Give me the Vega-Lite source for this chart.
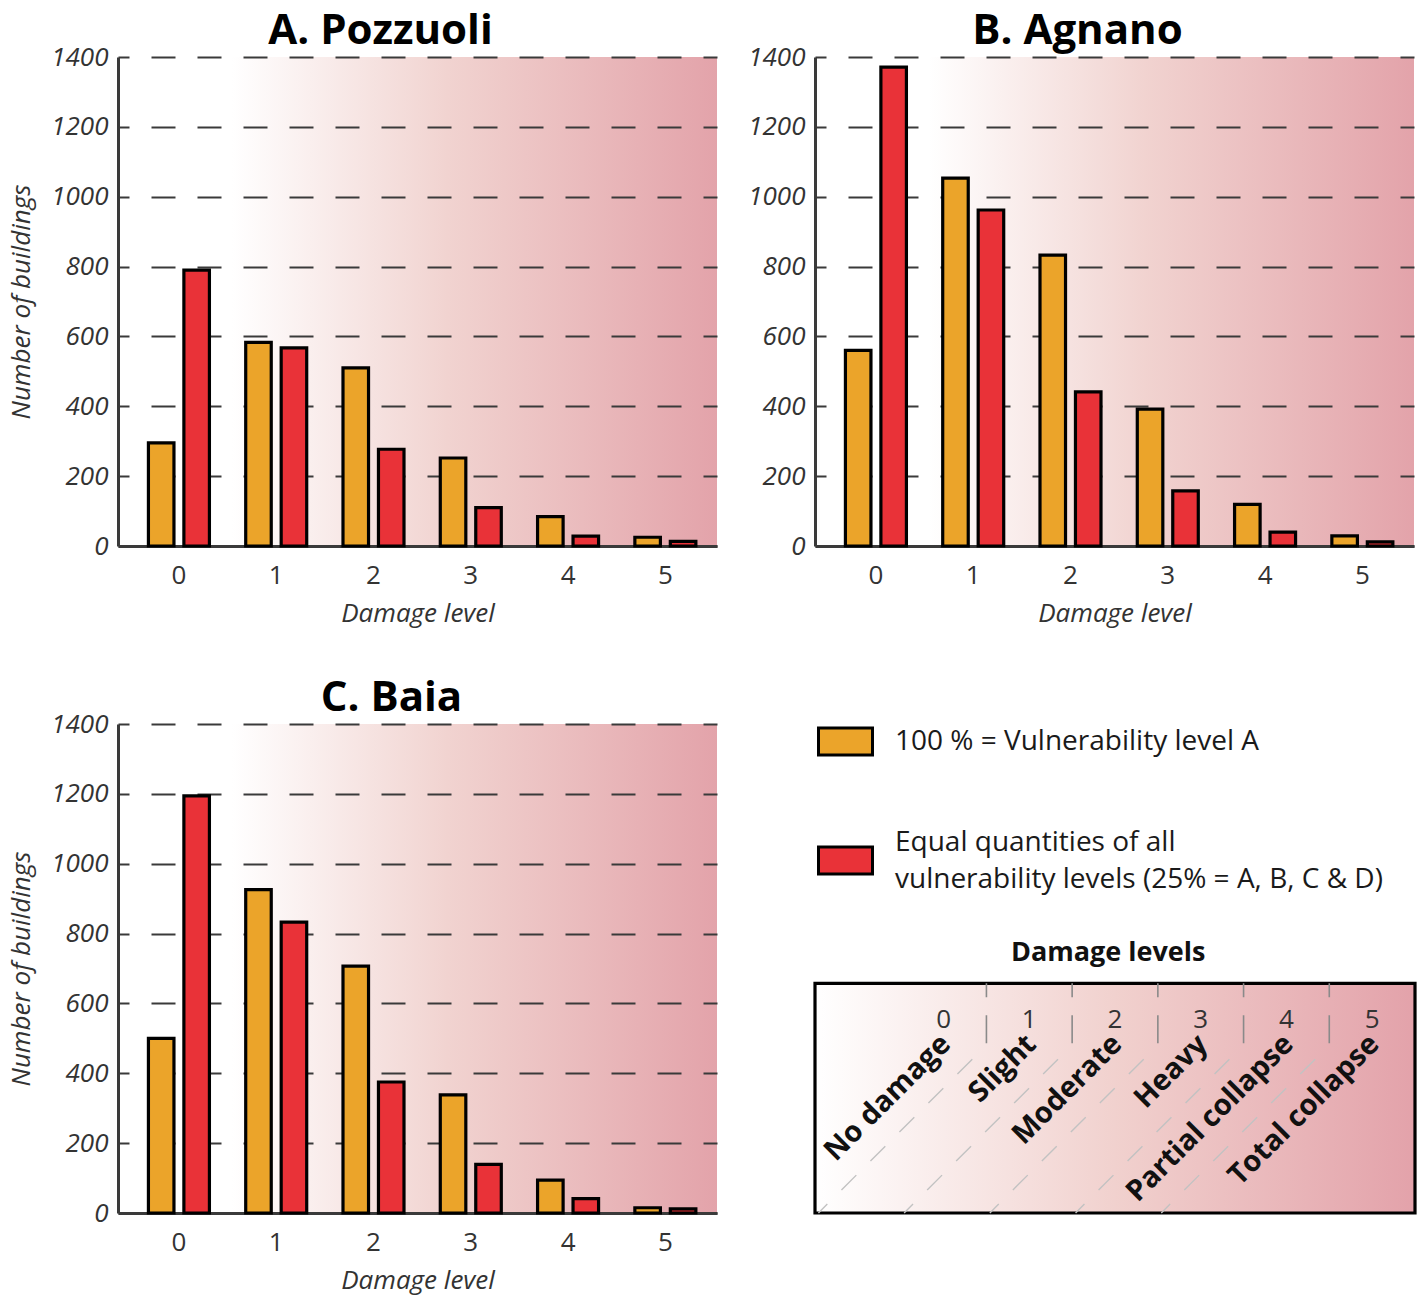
{
  "$schema": "https://vega.github.io/schema/vega-lite/v6.json",
  "background": "white",
  "padding": {"left": 8, "top": 10, "right": 0, "bottom": 14},
  "bounds": "flush",
  "columns": 2,
  "spacing": {"column": 98, "row": 178},
  "data": {
    "values": [
      {"town": "Pozzuoli", "level": 0, "series": "100 % = Vulnerability level A", "count": 295},
      {"town": "Pozzuoli", "level": 1, "series": "100 % = Vulnerability level A", "count": 583},
      {"town": "Pozzuoli", "level": 2, "series": "100 % = Vulnerability level A", "count": 510},
      {"town": "Pozzuoli", "level": 3, "series": "100 % = Vulnerability level A", "count": 252},
      {"town": "Pozzuoli", "level": 4, "series": "100 % = Vulnerability level A", "count": 84},
      {"town": "Pozzuoli", "level": 5, "series": "100 % = Vulnerability level A", "count": 25},
      {"town": "Pozzuoli", "level": 0, "series": "Equal quantities of all vulnerability levels (25% = A, B, C & D)", "count": 790},
      {"town": "Pozzuoli", "level": 1, "series": "Equal quantities of all vulnerability levels (25% = A, B, C & D)", "count": 567},
      {"town": "Pozzuoli", "level": 2, "series": "Equal quantities of all vulnerability levels (25% = A, B, C & D)", "count": 277},
      {"town": "Pozzuoli", "level": 3, "series": "Equal quantities of all vulnerability levels (25% = A, B, C & D)", "count": 110},
      {"town": "Pozzuoli", "level": 4, "series": "Equal quantities of all vulnerability levels (25% = A, B, C & D)", "count": 28},
      {"town": "Pozzuoli", "level": 5, "series": "Equal quantities of all vulnerability levels (25% = A, B, C & D)", "count": 13},
      {"town": "Agnano", "level": 0, "series": "100 % = Vulnerability level A", "count": 560},
      {"town": "Agnano", "level": 1, "series": "100 % = Vulnerability level A", "count": 1053},
      {"town": "Agnano", "level": 2, "series": "100 % = Vulnerability level A", "count": 833},
      {"town": "Agnano", "level": 3, "series": "100 % = Vulnerability level A", "count": 392},
      {"town": "Agnano", "level": 4, "series": "100 % = Vulnerability level A", "count": 119},
      {"town": "Agnano", "level": 5, "series": "100 % = Vulnerability level A", "count": 29},
      {"town": "Agnano", "level": 0, "series": "Equal quantities of all vulnerability levels (25% = A, B, C & D)", "count": 1371},
      {"town": "Agnano", "level": 1, "series": "Equal quantities of all vulnerability levels (25% = A, B, C & D)", "count": 962},
      {"town": "Agnano", "level": 2, "series": "Equal quantities of all vulnerability levels (25% = A, B, C & D)", "count": 441},
      {"town": "Agnano", "level": 3, "series": "Equal quantities of all vulnerability levels (25% = A, B, C & D)", "count": 158},
      {"town": "Agnano", "level": 4, "series": "Equal quantities of all vulnerability levels (25% = A, B, C & D)", "count": 40},
      {"town": "Agnano", "level": 5, "series": "Equal quantities of all vulnerability levels (25% = A, B, C & D)", "count": 12},
      {"town": "Baia", "level": 0, "series": "100 % = Vulnerability level A", "count": 500},
      {"town": "Baia", "level": 1, "series": "100 % = Vulnerability level A", "count": 926},
      {"town": "Baia", "level": 2, "series": "100 % = Vulnerability level A", "count": 707},
      {"town": "Baia", "level": 3, "series": "100 % = Vulnerability level A", "count": 338},
      {"town": "Baia", "level": 4, "series": "100 % = Vulnerability level A", "count": 94},
      {"town": "Baia", "level": 5, "series": "100 % = Vulnerability level A", "count": 15},
      {"town": "Baia", "level": 0, "series": "Equal quantities of all vulnerability levels (25% = A, B, C & D)", "count": 1194},
      {"town": "Baia", "level": 1, "series": "Equal quantities of all vulnerability levels (25% = A, B, C & D)", "count": 833},
      {"town": "Baia", "level": 2, "series": "Equal quantities of all vulnerability levels (25% = A, B, C & D)", "count": 375},
      {"town": "Baia", "level": 3, "series": "Equal quantities of all vulnerability levels (25% = A, B, C & D)", "count": 139},
      {"town": "Baia", "level": 4, "series": "Equal quantities of all vulnerability levels (25% = A, B, C & D)", "count": 41},
      {"town": "Baia", "level": 5, "series": "Equal quantities of all vulnerability levels (25% = A, B, C & D)", "count": 12}
    ]
  },
  "concat": [
    {
      "title": {"text": "A. Pozzuoli", "dx": -37},
      "width": 599,
      "height": 489,
      "view": {"stroke": null, "fill": {"gradient": "linear", "x1": 0, "y1": 0, "x2": 1, "y2": 0, "stops": [{"offset": 0, "color": "#ffffff"}, {"offset": 0.19, "color": "#ffffff"}, {"offset": 0.55, "color": "#f1d3d0"}, {"offset": 1, "color": "#e3a3aa"}]}},
      "transform": [{"filter": "datum.town == 'Pozzuoli'"}],
      "mark": {"type": "bar", "stroke": "black", "strokeWidth": 3.2},
      "encoding": {
        "x": {"field": "level", "type": "ordinal", "scale": {"paddingInner": 0.373, "paddingOuter": 0.265, "align": 0.59}, "axis": {"title": "Damage level"}},
        "xOffset": {"field": "series", "type": "nominal", "scale": {"domain": ["100 % = Vulnerability level A", "Equal quantities of all vulnerability levels (25% = A, B, C & D)"], "paddingInner": 0.28, "paddingOuter": 0}},
        "y": {"field": "count", "type": "quantitative", "scale": {"domain": [0, 1400], "nice": false}, "axis": {"values": [0, 200, 400, 600, 800, 1000, 1200, 1400], "format": "d", "title": "Number of buildings"}},
        "color": {"field": "series", "type": "nominal", "scale": {"domain": ["100 % = Vulnerability level A", "Equal quantities of all vulnerability levels (25% = A, B, C & D)"], "range": ["#eba42a", "#e93238"]}, "legend": {"orient": "none", "legendX": 699, "legendY": 656, "title": null, "labelExpr": "datum.label == '100 % = Vulnerability level A' ? datum.label : ['Equal quantities of all', 'vulnerability levels (25% = A, B, C & D)']", "encode": {"labels": {"update": {"dy": {"signal": "datum.value == '100 % = Vulnerability level A' ? 0 : -18"}}}}}}
      }
    },
    {
      "title": {"text": "B. Agnano", "dx": -37},
      "width": 599,
      "height": 489,
      "view": {"stroke": null, "fill": {"gradient": "linear", "x1": 0, "y1": 0, "x2": 1, "y2": 0, "stops": [{"offset": 0, "color": "#ffffff"}, {"offset": 0.19, "color": "#ffffff"}, {"offset": 0.55, "color": "#f1d3d0"}, {"offset": 1, "color": "#e3a3aa"}]}},
      "transform": [{"filter": "datum.town == 'Agnano'"}],
      "mark": {"type": "bar", "stroke": "black", "strokeWidth": 3.2},
      "encoding": {
        "x": {"field": "level", "type": "ordinal", "scale": {"paddingInner": 0.373, "paddingOuter": 0.265, "align": 0.59}, "axis": {"title": "Damage level"}},
        "xOffset": {"field": "series", "type": "nominal", "scale": {"domain": ["100 % = Vulnerability level A", "Equal quantities of all vulnerability levels (25% = A, B, C & D)"], "paddingInner": 0.28, "paddingOuter": 0}},
        "y": {"field": "count", "type": "quantitative", "scale": {"domain": [0, 1400], "nice": false}, "axis": {"values": [0, 200, 400, 600, 800, 1000, 1200, 1400], "format": "d", "title": null}},
        "color": {"field": "series", "type": "nominal", "scale": {"domain": ["100 % = Vulnerability level A", "Equal quantities of all vulnerability levels (25% = A, B, C & D)"], "range": ["#eba42a", "#e93238"]}, "legend": {"orient": "none", "legendX": 699, "legendY": 656, "title": null, "labelExpr": "datum.label == '100 % = Vulnerability level A' ? datum.label : ['Equal quantities of all', 'vulnerability levels (25% = A, B, C & D)']", "encode": {"labels": {"update": {"dy": {"signal": "datum.value == '100 % = Vulnerability level A' ? 0 : -18"}}}}}}
      }
    },
    {
      "title": {"text": "C. Baia", "dx": -26},
      "width": 599,
      "height": 489,
      "view": {"stroke": null, "fill": {"gradient": "linear", "x1": 0, "y1": 0, "x2": 1, "y2": 0, "stops": [{"offset": 0, "color": "#ffffff"}, {"offset": 0.19, "color": "#ffffff"}, {"offset": 0.55, "color": "#f1d3d0"}, {"offset": 1, "color": "#e3a3aa"}]}},
      "transform": [{"filter": "datum.town == 'Baia'"}],
      "mark": {"type": "bar", "stroke": "black", "strokeWidth": 3.2},
      "encoding": {
        "x": {"field": "level", "type": "ordinal", "scale": {"paddingInner": 0.373, "paddingOuter": 0.265, "align": 0.59}, "axis": {"title": "Damage level"}},
        "xOffset": {"field": "series", "type": "nominal", "scale": {"domain": ["100 % = Vulnerability level A", "Equal quantities of all vulnerability levels (25% = A, B, C & D)"], "paddingInner": 0.28, "paddingOuter": 0}},
        "y": {"field": "count", "type": "quantitative", "scale": {"domain": [0, 1400], "nice": false}, "axis": {"values": [0, 200, 400, 600, 800, 1000, 1200, 1400], "format": "d", "title": "Number of buildings"}},
        "color": {"field": "series", "type": "nominal", "scale": {"domain": ["100 % = Vulnerability level A", "Equal quantities of all vulnerability levels (25% = A, B, C & D)"], "range": ["#eba42a", "#e93238"]}, "legend": {"orient": "none", "legendX": 699, "legendY": 656, "title": null, "labelExpr": "datum.label == '100 % = Vulnerability level A' ? datum.label : ['Equal quantities of all', 'vulnerability levels (25% = A, B, C & D)']", "encode": {"labels": {"update": {"dy": {"signal": "datum.value == '100 % = Vulnerability level A' ? 0 : -18"}}}}}}
      }
    },
    {
      "width": 600,
      "height": 489,
      "view": {"stroke": null},
      "data": {
        "values": [
          {"level": 0, "name": "No damage", "edge": 0.5, "foot": -1.46},
          {"level": 1, "name": "Slight", "edge": 1.5, "foot": -0.46},
          {"level": 2, "name": "Moderate", "edge": 2.5, "foot": 0.54},
          {"level": 3, "name": "Heavy", "edge": 3.5, "foot": 1.54},
          {"level": 4, "name": "Partial collapse", "edge": 4.5, "foot": 2.54},
          {"level": 5, "name": "Total collapse"}
        ]
      },
      "layer": [
        {
          "data": {"values": [{"heading": "Damage levels"}]},
          "mark": {"type": "rect", "stroke": "black", "strokeWidth": 3.2, "fill": {"gradient": "linear", "x1": 0, "y1": 0, "x2": 1, "y2": 0, "stops": [{"offset": 0, "color": "#ffffff"}, {"offset": 0.5, "color": "#f1d1ce"}, {"offset": 1, "color": "#e3a2aa"}]}},
          "encoding": {
            "x": {"datum": -1.5, "type": "quantitative", "scale": {"domain": [-1.5, 5.5], "nice": false, "zero": false}, "axis": null},
            "x2": {"datum": 5.5},
            "y": {"datum": 0, "type": "quantitative", "scale": {"domain": [0, 5.706], "nice": false, "zero": false}, "axis": null},
            "y2": {"datum": 2.68}
          }
        },
        {
          "data": {"values": [{"heading": "Damage levels"}]},
          "mark": {"type": "text", "font": "Open Sans", "fontSize": 27, "fontWeight": "bold", "color": "#111", "align": "center", "baseline": "middle"},
          "encoding": {
            "x": {"datum": 1.92, "type": "quantitative"},
            "y": {"datum": 3.03, "type": "quantitative"},
            "text": {"field": "heading"}
          }
        },
        {
          "transform": [{"filter": "isValid(datum.edge)"}],
          "mark": {"type": "rule", "color": "#8a8a8a", "strokeWidth": 1.6, "strokeDash": [14, 18, 28, 200]},
          "encoding": {
            "x": {"field": "edge", "type": "quantitative"},
            "y": {"datum": 2.68, "type": "quantitative"},
            "y2": {"datum": 1.96}
          }
        },
        {
          "transform": [{"filter": "isValid(datum.edge)"}],
          "mark": {"type": "rule", "color": "#c2c2c2", "strokeWidth": 1.4, "strokeDash": [21, 20], "strokeDashOffset": 21},
          "encoding": {
            "x": {"field": "edge", "type": "quantitative"},
            "x2": {"field": "foot"},
            "y": {"datum": 1.96, "type": "quantitative"},
            "y2": {"datum": 0}
          }
        },
        {
          "mark": {"type": "text", "font": "Open Sans", "fontSize": 26, "color": "#333", "align": "center", "baseline": "middle"},
          "encoding": {
            "x": {"field": "level", "type": "quantitative"},
            "y": {"datum": 2.25, "type": "quantitative"},
            "text": {"field": "level", "type": "nominal"}
          }
        },
        {
          "mark": {"type": "text", "font": "Open Sans", "fontSize": 29, "fontWeight": "bold", "color": "#111", "align": "right", "baseline": "alphabetic", "angle": 315, "dx": 12},
          "encoding": {
            "x": {"field": "level", "type": "quantitative"},
            "y": {"datum": 1.85, "type": "quantitative"},
            "text": {"field": "name", "type": "nominal"}
          }
        }
      ]
    }
  ],
  "config": {
    "font": "Open Sans",
    "view": {"stroke": null},
    "title": {"font": "Open Sans", "fontSize": 42, "fontWeight": "bold", "color": "#000", "anchor": "middle", "offset": -9},
    "axis": {
      "labelFont": "Open Sans",
      "labelFontSize": 26,
      "labelColor": "#333",
      "titleFont": "Open Sans",
      "titleFontSize": 26,
      "titleFontWeight": "normal",
      "titleFontStyle": "italic",
      "titleColor": "#333",
      "domainColor": "#3a3a3a",
      "domainWidth": 3,
      "ticks": false
    },
    "axisY": {"labelFontStyle": "italic", "grid": true, "gridColor": "#3a3a3a", "gridWidth": 2, "gridDash": [24, 22], "gridDashOffset": 13, "labelPadding": 10, "titlePadding": 16},
    "axisX": {"grid": false, "labelPadding": 16, "titlePadding": 12, "labelAngle": 0},
    "legend": {
      "symbolType": "M-1,-0.5H1V0.5H-1Z",
      "symbolSize": 2916,
      "symbolStrokeColor": "black",
      "symbolStrokeWidth": 3,
      "symbolOpacity": 1,
      "labelFont": "Open Sans",
      "labelFontSize": 28,
      "labelColor": "#1a1a1a",
      "labelOffset": 21,
      "labelLimit": 700,
      "rowPadding": 67
    },
    "style": {"guide-label": {"lineHeight": 37}}
  }
}
